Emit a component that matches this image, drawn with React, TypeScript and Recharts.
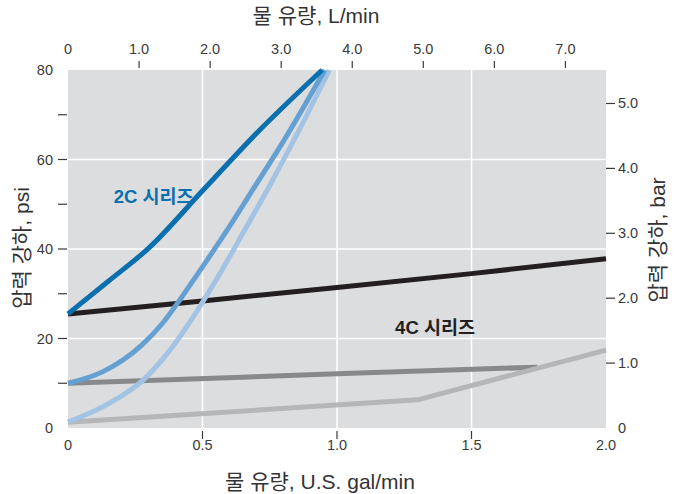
import { LineChart, Line, XAxis, YAxis, CartesianGrid, ReferenceLine, ReferenceDot } from "recharts"

const LPM_PER_GAL = 3.78541
const PSI_PER_BAR = 14.5038

// tick labels
const galTicks = [0, 0.5, 1, 1.5, 2]
const lpmTicks = [0, 1, 2, 3, 4, 5, 6, 7]
const psiTicks = [0, 10, 20, 30, 40, 50, 60, 70, 80]
const barTicks = [0, 1, 2, 3, 4, 5]
const gridGal = [0.5, 1, 1.5]
const gridPsi = [20, 40, 60]

// 2C series (three curves)
const c2DarkGal = [0, 0.15, 0.3, 0.5, 0.7, 0.945]
const c2DarkPsi = [25.5, 32.8, 40.2, 53, 65.8, 80]
const c2MidGal = [0, 0.13, 0.27, 0.35, 0.42, 0.5, 0.6, 0.7, 0.8, 0.955]
const c2MidPsi = [10, 12.6, 18.3, 23.3, 29, 36, 45, 54.5, 64, 80]
const c2LightGal = [0, 0.156, 0.279, 0.379, 0.465, 0.55, 0.65, 0.75, 0.85, 0.972]
const c2LightPsi = [1.3, 5.6, 10.7, 17.4, 24.8, 33, 43.5, 54.2, 65.5, 80]

// 4C series (three lines)
const c4BlackGal = [0, 0.5, 1, 1.5, 2]
const c4BlackPsi = [25.5, 28.4, 31.4, 34.5, 37.8]
const c4GrayGal = [0, 1, 1.745]
const c4GrayPsi = [10, 12.1, 13.6]
const c4LightGal = [0, 1.3, 2]
const c4LightPsi = [1.3, 6.3, 17.4]

const toPoints = (gal: number[], psi: number[]) => gal.map((g, i) => ({ gal: g, psi: psi[i] }))

const series = [
  { name: "4C-gray", data: toPoints(c4GrayGal, c4GrayPsi), color: "#88898b", type: "linear" },
  { name: "4C-light", data: toPoints(c4LightGal, c4LightPsi), color: "#b5b6b8", type: "linear" },
  { name: "4C-black", data: toPoints(c4BlackGal, c4BlackPsi), color: "#231f20", type: "linear" },
  { name: "2C-light", data: toPoints(c2LightGal, c2LightPsi), color: "#a3c3e4", type: "monotone" },
  { name: "2C-mid", data: toPoints(c2MidGal, c2MidPsi), color: "#65a0d2", type: "monotone" },
  { name: "2C-dark", data: toPoints(c2DarkGal, c2DarkPsi), color: "#0a6fae", type: "monotone" },
]

// top axis: L/min ticks placed on the gal/min scale
const lpmTicksInGal = lpmTicks.map((l) => l / LPM_PER_GAL)

const FONT = '"Liberation Sans", Arial, "Noto Sans CJK KR", sans-serif'
const TICK_COLOR = "#3a3a3a"

const fmt1 = (v: number) => (v === 0 ? "0" : v.toFixed(1))

const GalTick = (props: any) => {
  const { x, y, payload } = props
  const v = payload.value
  return (
    <g>
      {v > 0 && v < 2 && <line x1={x} x2={x} y1={y + 3} y2={y + 11} stroke={TICK_COLOR} strokeWidth={1.2} />}
      <text x={x} y={y + 22} textAnchor="middle" fontSize={14.5} fontFamily={FONT} fill={TICK_COLOR}>
        {fmt1(v)}
      </text>
    </g>
  )
}

const LpmTick = (props: any) => {
  const { x, y, payload } = props
  const v = Math.round(payload.value * LPM_PER_GAL)
  return (
    <g>
      {v > 0 && <line x1={x} x2={x} y1={y - 9} y2={y - 2} stroke={TICK_COLOR} strokeWidth={1.2} />}
      <text x={x} y={y - 16} textAnchor="middle" fontSize={14.5} fontFamily={FONT} fill={TICK_COLOR}>
        {fmt1(v)}
      </text>
    </g>
  )
}

const PsiTick = (props: any) => {
  const { x, y, payload } = props
  const v = payload.value
  return (
    <g>
      {v > 0 && v < 80 && <line x1={x - 10} x2={x - 1} y1={y} y2={y} stroke={TICK_COLOR} strokeWidth={1.2} />}
      {v % 20 === 0 && (
        <text x={x - 15} y={y + 5} textAnchor="end" fontSize={14.5} fontFamily={FONT} fill={TICK_COLOR}>
          {v}
        </text>
      )}
    </g>
  )
}

const BarTick = (props: any) => {
  const { x, y, payload } = props
  const v = payload.value
  return (
    <g>
      {v > 0 && <line x1={x} x2={x + 9} y1={y} y2={y} stroke={TICK_COLOR} strokeWidth={1.2} />}
      <text x={x + 12} y={y + 5} textAnchor="start" fontSize={14.5} fontFamily={FONT} fill={TICK_COLOR}>
        {fmt1(v)}
      </text>
    </g>
  )
}

const SeriesLabel = (props: any) => {
  const { viewBox, text, color } = props
  const cx = viewBox.x + viewBox.width / 2
  const cy = viewBox.y + viewBox.height / 2
  return (
    <text x={cx} y={cy + 6} fontSize={18.5} fontWeight="bold" fontFamily={FONT} fill={color}>
      {text}
    </text>
  )
}

const titleStyle: React.CSSProperties = {
  position: "absolute",
  fontFamily: FONT,
  fontSize: 21,
  color: "#333",
  whiteSpace: "nowrap",
  transform: "translate(-50%, -50%)",
}

export default function App() {
  return (
    <div style={{ position: "absolute", left: 0, top: 0, width: 675, height: 494, background: "#fff" }}>
      <LineChart width={675} height={494} margin={{ top: 0, right: 0, bottom: 0, left: 0 }}>
        <CartesianGrid xAxisId="gal" yAxisId="psi" horizontal={false} vertical={false} fill="#dcdddf" fillOpacity={1} />
        <XAxis
          xAxisId="gal"
          dataKey="gal"
          type="number"
          domain={[0, 2]}
          ticks={galTicks}
          interval={0}
          height={66}
          axisLine={false}
          tickLine={false}
          tickSize={0}
          tickMargin={0}
          tick={(p: any) => <GalTick {...p} />}
        />
        <XAxis
          xAxisId="lpm"
          dataKey="gal"
          orientation="top"
          type="number"
          domain={[0, 2]}
          allowDataOverflow
          ticks={lpmTicksInGal}
          interval={0}
          height={70}
          axisLine={false}
          tickLine={false}
          tickSize={0}
          tickMargin={0}
          tick={(p: any) => <LpmTick {...p} />}
        />
        <YAxis
          yAxisId="psi"
          type="number"
          domain={[0, 80]}
          ticks={psiTicks}
          interval={0}
          width={68}
          axisLine={false}
          tickLine={false}
          tickSize={0}
          tickMargin={0}
          tick={(p: any) => <PsiTick {...p} />}
        />
        <YAxis
          yAxisId="bar"
          orientation="right"
          type="number"
          domain={[0, 80 / PSI_PER_BAR]}
          allowDataOverflow
          ticks={barTicks}
          interval={0}
          width={69}
          axisLine={false}
          tickLine={false}
          tickSize={0}
          tickMargin={0}
          tick={(p: any) => <BarTick {...p} />}
        />
        {gridGal.map((g) => (
          <ReferenceLine key={"gx" + g} xAxisId="gal" yAxisId="psi" x={g} stroke="#ffffff" strokeWidth={1.6} />
        ))}
        {gridPsi.map((p) => (
          <ReferenceLine key={"gy" + p} xAxisId="gal" yAxisId="psi" y={p} stroke="#ffffff" strokeWidth={1.6} />
        ))}
        {series.map((s) => (
          <Line
            key={s.name}
            xAxisId="gal"
            yAxisId="psi"
            data={s.data}
            dataKey="psi"
            type={s.type as any}
            stroke={s.color}
            strokeWidth={5}
            dot={false}
            activeDot={false}
            isAnimationActive={false}
          />
        ))}
        <ReferenceDot
          xAxisId="gal"
          yAxisId="psi"
          x={0.17}
          y={51.6}
          r={1}
          fill="none"
          stroke="none"
          label={<SeriesLabel text="2C 시리즈" color="#0a6fae" />}
        />
        <ReferenceDot
          xAxisId="gal"
          yAxisId="psi"
          x={1.216}
          y={22.3}
          r={1}
          fill="none"
          stroke="none"
          label={<SeriesLabel text="4C 시리즈" color="#231f20" />}
        />
      </LineChart>
      <div style={{ ...titleStyle, left: 316, top: 14 }}>물 유량, L/min</div>
      <div style={{ ...titleStyle, left: 320, top: 480 }}>물 유량, U.S. gal/min</div>
      <div style={{ ...titleStyle, left: 20, top: 248, transform: "translate(-50%, -50%) rotate(-90deg)" }}>
        압력 강하, psi
      </div>
      <div style={{ ...titleStyle, left: 656, top: 240, transform: "translate(-50%, -50%) rotate(-90deg)" }}>
        압력 강하, bar
      </div>
    </div>
  )
}
